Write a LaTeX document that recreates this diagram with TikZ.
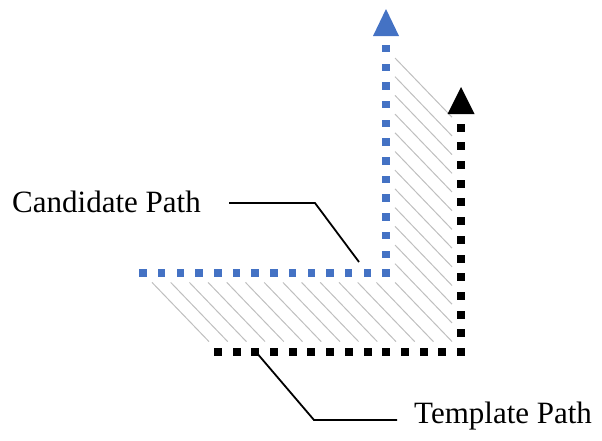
\documentclass[tikz,border=0pt]{standalone}
\usepackage{fontspec}
\setmainfont{Liberation Serif}
\definecolor{candblue}{RGB}{68,114,196}
\begin{document}
\begin{tikzpicture}[x=1pt,y=-1pt,
  hatch/.style={draw=gray!50, line width=1pt},
  leader/.style={draw=black, line width=1.8pt},
  lbl/.style={font=\fontsize{31}{36}\selectfont, inner sep=0pt, anchor=base west}]
\useasboundingbox (0,0) rectangle (602,440);
\def\sp{18.7}
% hatching between the two paths
\foreach \i in {0,...,13} {
  \draw[hatch] ({143+\i*\sp+9},282.4) -- ({143+\i*\sp+66},341.6);
}
\foreach \j in {1,...,12} {
  \draw[hatch] (395,{273-\j*\sp+9.4}) -- (452,{273-\j*\sp+68.6});
}
% candidate path (blue squares)
\foreach \i in {0,...,13} {
  \fill[candblue] ({143+\i*\sp-3.75},269.25) rectangle ++(7.5,7.5);
}
\foreach \j in {1,...,12} {
  \fill[candblue] (382.25,{273-\j*\sp-3.75}) rectangle ++(7.5,7.5);
}
\fill[candblue] (386,9) -- (399,36) -- (373,36) -- cycle;
% template path (black squares)
\foreach \i in {0,...,13} {
  \fill[black] ({461-\i*\sp-4},348) rectangle ++(8,8);
}
\foreach \j in {1,...,12} {
  \fill[black] (457,{352-\j*\sp-4}) rectangle ++(8,8);
}
\fill[black] (461,87) -- (474.5,114) -- (447.5,114) -- cycle;
% labels and leaders
\node[lbl] (cand) at (12,212) {Candidate Path};
\coordinate (cstart) at (229,203);
\coordinate (cbend) at (315,203);
\coordinate (cend) at (359,262);
\draw[leader] (cstart) -- (cbend) -- (cend);
\node[lbl] (tmpl) at (414,423) {Template Path};
\coordinate (tstart) at (256,352);
\coordinate (tbend) at (314,420);
\coordinate (tend) at (397,420);
\draw[leader] (tstart) -- (tbend) -- (tend);
\end{tikzpicture}
\end{document}
